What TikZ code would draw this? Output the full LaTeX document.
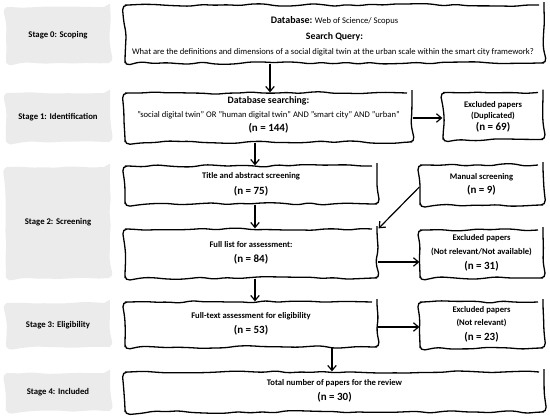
\documentclass[tikz,border=0pt]{standalone}
\usepackage{fontspec}
\setmainfont{Carlito}
\usetikzlibrary{decorations.pathmorphing,arrows.meta}
\begin{document}
\begin{tikzpicture}[x=1pt,y=-1pt,
  wavy/.style={decorate, decoration={random steps, segment length=12pt, amplitude=1.4pt}},
  box/.style={wavy, draw=black, line width=1.3pt, rounded corners=5pt, fill=white, inner sep=0pt},
  stagebox/.style={decorate, decoration={random steps, segment length=12pt, amplitude=1pt},
    fill=black!8, rounded corners=6pt, inner sep=0pt, minimum width=104pt},
  stagetxt/.style={font=\bfseries\fontsize{8.7}{10}\selectfont, anchor=mid, inner sep=0pt},
  txt/.style={font=\fontsize{8.6}{10}\selectfont, anchor=mid, inner sep=0pt},
  btxt/.style={font=\bfseries\fontsize{8.6}{10}\selectfont, anchor=mid, inner sep=0pt},
  htxt/.style={font=\bfseries\fontsize{9.8}{11}\selectfont, anchor=mid, inner sep=0pt},
  ntxt/.style={font=\bfseries\fontsize{11}{13}\selectfont, anchor=mid, inner sep=0pt},
  arr/.style={line width=1.2pt, -{Straight Barb[length=5pt,width=8.5pt,line width=1.2pt]}},
]
\pgfmathsetseed{11}
\useasboundingbox (0,0) rectangle (550,418);
% stage boxes
\node[stagebox, minimum height=56pt] (s0) at (58,35) {};
\node[stagebox, minimum height=49pt] (s1) at (58,117.5) {};
\node[stagebox, minimum height=111pt] (s2) at (58,222.5) {};
\node[stagebox, minimum height=44pt] (s3) at (58,325) {};
\node[stagebox, minimum height=38pt] (s4) at (58,392) {};
\node[stagetxt] (l0) at (s0) {Stage 0: Scoping};
\node[stagetxt] (l1) at (s1) {Stage 1: Identification};
\node[stagetxt] (l2) at (s2) {Stage 2: Screening};
\node[stagetxt] (l3) at (s3) {Stage 3: Eligibility};
\node[stagetxt] (l4) at (s4) {Stage 4: Included};
% main boxes
\node[box, minimum width=419pt, minimum height=58pt] (b0) at (334.5,34) {};
\node[box, minimum width=287pt, minimum height=49pt] (b1) at (268.5,117.5) {};
\node[box, minimum width=100pt, minimum height=47pt] (e1) at (493,116) {};
\node[box, minimum width=252pt, minimum height=38pt] (b2) at (251,185) {};
\node[box, minimum width=123pt, minimum height=40pt] (m) at (481.5,185) {};
\node[box, minimum width=252pt, minimum height=49pt] (b3) at (251,253.5) {};
\node[box, minimum width=123pt, minimum height=48pt] (e2) at (481.5,254) {};
\node[box, minimum width=252pt, minimum height=45pt] (b4) at (251,324.5) {};
\node[box, minimum width=123pt, minimum height=46pt] (e3) at (481.5,325) {};
\node[box, minimum width=419pt, minimum height=40pt] (b5) at (334.5,392) {};
% texts
\node[txt] (t0a) at (334.5,21.5) {{\bfseries\fontsize{10}{11}\selectfont Database:} Web of Science/ Scopus};
\node[htxt] (t0b) at (334.5,37.5) {Search Query:};
\node[txt] (t0c) at (333,52) {What are the definitions and dimensions of a social digital twin at the urban scale within the smart city framework?};
\node[htxt] (t1a) at (268.5,101.5) {Database searching:};
\node[txt] (t1b) at (268.5,115.5) {"social digital twin" OR "human digital twin" AND "smart city" AND "urban"};
\node[ntxt] (t1c) at (268.5,129) {(n = 144)};
\node[btxt] (e1a) at (493,105) {Excluded papers};
\node[btxt] (e1b) at (493,116.5) {(Duplicated)};
\node[ntxt] (e1c) at (493,128.5) {(n = 69)};
\node[btxt] (t2a) at (251,176) {Title and abstract screening};
\node[ntxt] (t2b) at (251,192) {(n = 75)};
\node[btxt] (ma) at (481.5,177.5) {Manual screening};
\node[ntxt] (mb) at (481.5,191) {(n = 9)};
\node[btxt] (t3a) at (251,245) {Full list for assessment:};
\node[ntxt] (t3b) at (251,260.5) {(n = 84)};
\node[btxt] (e2a) at (481.5,238.5) {Excluded papers};
\node[btxt] (e2b) at (481.5,252.5) {(Not relevant/Not available)};
\node[ntxt] (e2c) at (481.5,267) {(n = 31)};
\node[btxt] (t4a) at (251,316) {Full-text assessment for eligibility};
\node[ntxt] (t4b) at (251,331) {(n = 53)};
\node[btxt] (e3a) at (481.5,310) {Excluded papers};
\node[btxt] (e3b) at (481.5,323.5) {(Not relevant)};
\node[ntxt] (e3c) at (481.5,338) {(n = 23)};
\node[btxt] (t5a) at (334.5,383) {Total number of papers for the review};
\node[ntxt] (t5b) at (334.5,398) {(n = 30)};
% arrows
\draw[arr] (b0.south -| 270,0) -- (b1.north -| 270,0);
\draw[arr] (b1.south -| 255,0) -- (b2.north -| 255,0);
\draw[arr] (b1.east |- 0,118) -- (e1.west |- 0,118);
\draw[arr] (b2.south -| 255,0) -- (b3.north -| 255,0);
\draw[arr] (m.west |- 0,187) -- ([xshift=1pt]b3.north east);
\draw[arr] (b3.east |- 0,262) -- (e2.west |- 0,262);
\draw[arr] (b3.south -| 255,0) -- (b4.north -| 255,0);
\draw[arr] (b4.east |- 0,327) -- (e3.west |- 0,327);
\draw[arr] (b4.south -| 332,0) -- (b5.north -| 332,0);
\end{tikzpicture}
\end{document}
